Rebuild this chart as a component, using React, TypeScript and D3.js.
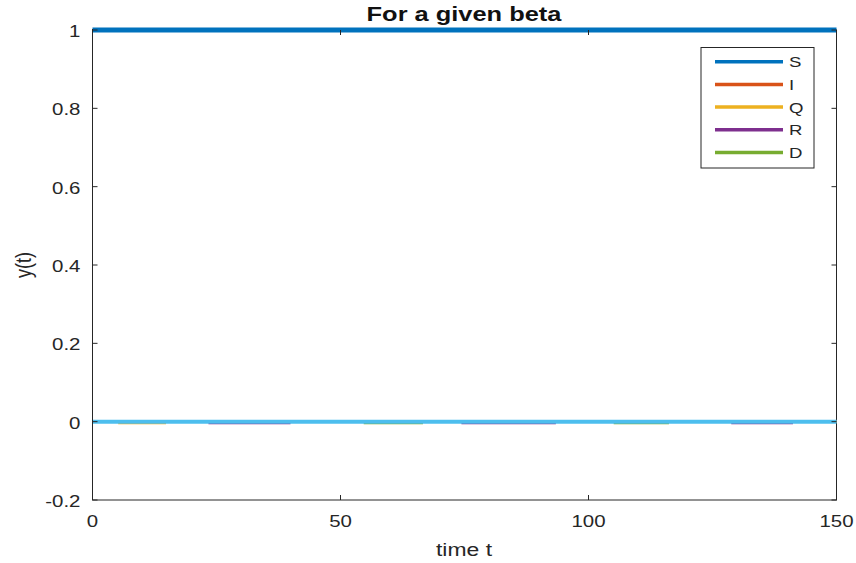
import React from "react";
import * as d3 from "d3";

// Time-domain and value-domain limits of the axes
const xDomain: [number, number] = [0, 150];
const yDomain: [number, number] = [-0.2, 1];
const xTicks = [0, 50, 100, 150];
const yTicks = [-0.2, 0, 0.2, 0.4, 0.6, 0.8, 1];

// Compartment trajectories as [t, y] points
const sSeries: [number, number][] = [[0, 1], [150, 1]];
const iSeries: [number, number][] = [[0, 0], [150, 0]];
const qSeries: [number, number][] = [
  [0, 0], [5.4, 0], [5.4, -0.004], [14.6, -0.004], [14.6, 0], [150, 0],
];
const rSeries: [number, number][] = [
  [0, 0], [23.6, 0], [23.6, -0.004], [39.7, -0.004], [39.7, 0],
  [74.6, 0], [74.6, -0.004], [93.2, -0.004], [93.2, 0],
  [129, 0], [129, -0.004], [141, -0.004], [141, 0], [150, 0],
];
const dSeries: [number, number][] = [
  [0, 0], [54.9, 0], [54.9, -0.004], [66.4, -0.004], [66.4, 0],
  [105.3, 0], [105.3, -0.004], [116, -0.004], [116, 0], [150, 0],
];
// Extra trajectory drawn on top, not listed in the legend
const extraSeries: [number, number][] = [[0, 0], [150, 0]];

const legendNames = ["S", "I", "Q", "R", "D"];
const seriesColors = ["#0072BD", "#D95319", "#EDB120", "#7E2F8E", "#77AC30"];

const W = 856;
const H = 563;
const LEFT = 92.5;
const RIGHT = 836.5;
const TOP = 30;
const BOTTOM = 500;
const SX = 1.24; // horizontal text stretch
const INK = "#262626";
const FONT = "'Liberation Sans', Arial, Helvetica, sans-serif";

function SText(props: {
  x: number; y: number; anchor?: string; size: number; weight?: string | number;
  rotate?: number; fill?: string; children: React.ReactNode;
}) {
  const { x, y, anchor = "start", size, weight = "normal", rotate = 0, fill = INK, children } = props;
  return (
    <text
      transform={`translate(${x},${y}) scale(${SX},1)${rotate ? ` rotate(${rotate})` : ""}`}
      textAnchor={anchor}
      fontSize={size}
      fontWeight={weight}
      fontFamily={FONT}
      fill={fill}
    >
      {children}
    </text>
  );
}

// MATLAB-style tick text: plain hyphen for negatives
const fmtTick = (v: number) => String(Math.round(v * 10) / 10);

export default function App() {
  const x = d3.scaleLinear().domain(xDomain).range([LEFT, RIGHT]);
  const y = d3.scaleLinear().domain(yDomain).range([BOTTOM, TOP]);
  const line = d3.line<[number, number]>().x((d) => x(d[0])).y((d) => y(d[1]));

  const lowSeries = [iSeries, qSeries, rSeries, dSeries];
  const tickLen = 5;

  // legend geometry
  const lgX0 = 701, lgX1 = 814, lgY0 = 47.5, lgY1 = 168;
  const lgRow0 = 61.7, lgStep = 22.7;

  return (
    <svg
      width={W}
      height={H}
      style={{ position: "absolute", left: 0, top: 0, background: "#fff" }}
    >
      <rect x={0} y={0} width={W} height={H} fill="#fff" />

      {/* axes box */}
      <rect x={LEFT} y={TOP} width={RIGHT - LEFT} height={BOTTOM - TOP} fill="none" stroke={INK} strokeWidth={1} />

      {/* low-lying compartments, then the extra trace over them */}
      {lowSeries.map((s, i) => (
        <path key={i} d={line(s) || ""} fill="none" stroke={seriesColors[i + 1]} strokeWidth={2.2} />
      ))}
      <path d={line(extraSeries) || ""} fill="none" stroke="#4DBEEE" strokeWidth={4} />
      <path d={line(sSeries) || ""} fill="none" stroke={seriesColors[0]} strokeWidth={5} />

      {/* left spine stays visible above the traces */}
      <line x1={LEFT} x2={LEFT} y1={TOP - 1} y2={BOTTOM} stroke={INK} strokeWidth={1} />

      {xTicks.map((t) => (
        <g key={`xt${t}`}>
          <line x1={x(t)} x2={x(t)} y1={BOTTOM} y2={BOTTOM - tickLen} stroke={INK} />
          <line x1={x(t)} x2={x(t)} y1={TOP} y2={TOP + tickLen} stroke={INK} />
          <SText x={x(t)} y={527} anchor="middle" size={16.5}>{fmtTick(t)}</SText>
        </g>
      ))}
      {yTicks.map((t) => (
        <g key={`yt${t}`}>
          <line x1={LEFT} x2={LEFT + tickLen} y1={y(t)} y2={y(t)} stroke={INK} />
          <line x1={RIGHT} x2={RIGHT - tickLen} y1={y(t)} y2={y(t)} stroke={INK} />
          <SText x={80.5} y={y(t) + 7} anchor="end" size={16.5}>{fmtTick(t)}</SText>
        </g>
      ))}

      {/* labels and title */}
      <SText x={464} y={556} anchor="middle" size={18.5}>time t</SText>
      <SText x={31} y={265} anchor="middle" size={18} rotate={-90}>y(t)</SText>
      <SText x={464} y={21} anchor="middle" size={20.5} weight="bold" fill="#111">For a given beta</SText>

      {/* legend */}
      <rect x={lgX0} y={lgY0} width={lgX1 - lgX0} height={lgY1 - lgY0} fill="#fff" stroke={INK} strokeWidth={1} />
      {legendNames.map((n, i) => {
        const cy = lgRow0 + i * lgStep;
        return (
          <g key={n}>
            <line x1={715} x2={783} y1={cy} y2={cy} stroke={seriesColors[i]} strokeWidth={3.5} />
            <SText x={789} y={cy + 5.5} size={15}>{n}</SText>
          </g>
        );
      })}
    </svg>
  );
}
